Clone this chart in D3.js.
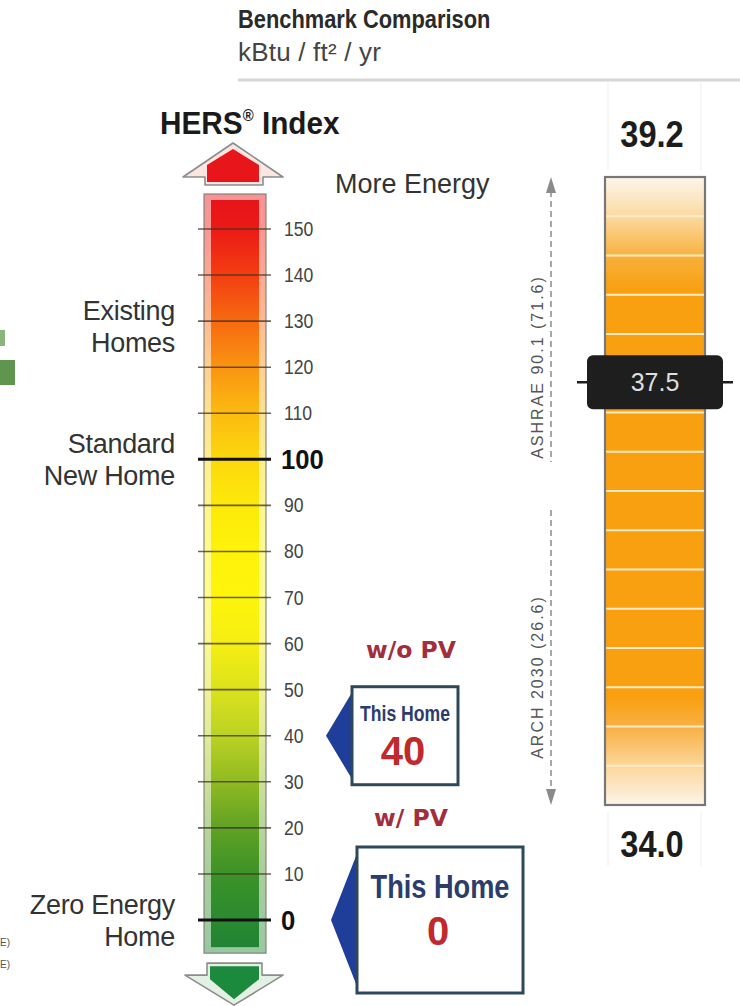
<!DOCTYPE html>
<html>
<head>
<meta charset="utf-8">
<script src="https://cdn.jsdelivr.net/npm/d3@7"></script>
<style>
  body { margin: 0; background: #fff; }
  svg { display: block; }
</style>
</head>
<body>
<svg id="chart" width="740" height="1006"></svg>
<script>
// ---- HERS index scale ----
const hersTicks = [0, 10, 20, 30, 40, 50, 60, 70, 80, 90, 100, 110, 120, 130, 140, 150];
const hersMajorTicks = [0, 100];
const hersBarExtent = [-7.2, 157.6];
const hersRefLabels = [["Existing", "Homes"], ["Standard", "New Home"], ["Zero Energy", "Home"]];
const hersRefValues = [129, 100, 0];

// ---- this home's ratings ----
const homeCases = ["w/o PV", "w/ PV"];
const homeScores = [40, 0];

// ---- benchmark comparison (kBtu / ft² / yr) ----
const benchExtent = [34.0, 39.2];
const benchMarker = 37.5;
const benchStandards = ["ASHRAE 90.1 (71.6)", "ARCH 2030 (26.6)"];
const benchSegments = 16;

// colour stops along the HERS bar, keyed by index value
const hersStopValues = [157.6, 150, 140, 130, 120, 110, 100, 90, 80, 70, 60, 50, 40, 30, 20, 10, 0, -7.2];
const hersStopColors = ["#e6121a", "#ec1a16", "#f33e12", "#f76a10", "#fa9412", "#fbbb10", "#fcd80e",
  "#fde908", "#fef20a", "#fef40c", "#f5ee12", "#dbe21c", "#bbd224", "#90ba22", "#60a224", "#3c9228",
  "#2a8a30", "#1f8234"];

const svg = d3.select("#chart");
const defs = svg.append("defs");

const SANS = "'Liberation Sans', Arial, sans-serif";

// text squeezed horizontally, for the condensed captions
function condensed(parent, x, yPos, sx, anchor) {
  return parent.append("g")
    .attr("transform", `translate(${x},${yPos}) scale(${sx},1)`)
    .append("text")
    .attr("text-anchor", anchor || "start")
    .attr("font-family", SANS);
}

// =====================================================================
// HERS index column
// =====================================================================
const y = d3.scaleLinear().domain([0, 150]).range([920, 229]);

const barOuterX = 204, barOuterW = 62;
const barInnerX = 211, barInnerW = 48;
const tickX1 = 198, tickX2 = 271;

const grad = defs.append("linearGradient")
  .attr("id", "hersGrad")
  .attr("gradientUnits", "userSpaceOnUse")
  .attr("x1", 0).attr("x2", 0)
  .attr("y1", y(hersBarExtent[1])).attr("y2", y(hersBarExtent[0]));
hersStopValues.forEach((v, i) => {
  grad.append("stop")
    .attr("offset", (y(v) - y(hersBarExtent[1])) / (y(hersBarExtent[0]) - y(hersBarExtent[1])))
    .attr("stop-color", hersStopColors[i]);
});

// title
condensed(svg, 160, 134, 0.93)
  .attr("font-weight", "bold").attr("font-size", 32)
  .attr("fill", "#1a1a1a")
  .call(t => {
    t.append("tspan").text("HERS");
    t.append("tspan").attr("font-size", 16).attr("dy", -13).text("®");
    t.append("tspan").attr("dy", 13).text(" Index");
  });

svg.append("text")
  .attr("x", 335).attr("y", 193)
  .attr("font-family", SANS).attr("font-size", 27).attr("fill", "#333")
  .text("More Energy");

// top arrow (more energy)
const topTipY = y(hersBarExtent[1]) - 51;
const topBaseY = topTipY + 34;
svg.append("polygon")
  .attr("points", [[183, topBaseY], [233, topTipY], [283, topBaseY], [263, topBaseY], [263, topBaseY + 8],
    [205, topBaseY + 8], [205, topBaseY]].join(" "))
  .attr("fill", "#fbe6e2").attr("stroke", "#8c8c8c").attr("stroke-width", 1.6)
  .attr("stroke-linejoin", "round");
svg.append("polygon")
  .attr("points", [[207, topBaseY + 5], [207, topBaseY - 12], [233, topTipY + 6], [259, topBaseY - 12],
    [259, topBaseY + 5]].join(" "))
  .attr("fill", "#e8161a");

// bar body: pale rim + saturated core
svg.append("rect")
  .attr("x", barOuterX).attr("y", y(hersBarExtent[1]))
  .attr("width", barOuterW).attr("height", y(hersBarExtent[0]) - y(hersBarExtent[1]))
  .attr("fill", "url(#hersGrad)").attr("fill-opacity", 0.45)
  .attr("stroke", "#7a7a6a").attr("stroke-opacity", 0.7).attr("stroke-width", 1.5);
svg.append("rect")
  .attr("x", barInnerX).attr("y", y(hersBarExtent[1]) + 6)
  .attr("width", barInnerW).attr("height", y(hersBarExtent[0]) - y(hersBarExtent[1]) - 12)
  .attr("fill", "url(#hersGrad)");

// bottom arrow (less energy)
const botTopY = y(hersBarExtent[0]) + 10;
const botWingY = botTopY + 12;
svg.append("polygon")
  .attr("points", [[207, botTopY], [262, botTopY], [262, botWingY], [283, botWingY], [234, botWingY + 30],
    [185, botWingY], [207, botWingY]].join(" "))
  .attr("fill", "#e4f0e4").attr("stroke", "#8c8c8c").attr("stroke-width", 1.6)
  .attr("stroke-linejoin", "round");
svg.append("polygon")
  .attr("points", [[210, botTopY + 3], [259, botTopY + 3], [259, botWingY + 4], [234, botWingY + 24],
    [210, botWingY + 4]].join(" "))
  .attr("fill", "#1c8a3c");

// ticks
svg.append("g").selectAll("line")
  .data(hersTicks)
  .join("line")
  .attr("x1", tickX1).attr("x2", tickX2)
  .attr("y1", d => y(d)).attr("y2", d => y(d))
  .attr("stroke", d => hersMajorTicks.includes(d) ? "#111" : "#3a3020")
  .attr("stroke-opacity", d => hersMajorTicks.includes(d) ? 1 : 0.75)
  .attr("stroke-width", d => hersMajorTicks.includes(d) ? 3 : 1.6);

hersTicks.forEach(d => {
  const major = hersMajorTicks.includes(d);
  condensed(svg, major ? 281 : 284, y(d) + (major ? 10 : 7), major ? 0.95 : 0.84)
    .attr("font-weight", major ? "bold" : "normal")
    .attr("font-size", major ? 27 : 21)
    .attr("fill", major ? "#111" : "#444")
    .text(d);
});

// reference labels left of the bar
hersRefLabels.forEach((lines, i) => {
  const t = svg.append("text")
    .attr("text-anchor", "end")
    .attr("font-family", SANS).attr("font-size", 27).attr("fill", "#333")
    .attr("letter-spacing", -0.3);
  lines.forEach((ln, j) => {
    t.append("tspan").attr("x", 175).attr("y", y(hersRefValues[i]) - 6 + j * 32).text(ln);
  });
});

// "This Home" call-outs
const caseLabelX = 411;
const calloutBoxes = [
  { x: 352, w: 106, h: 98, titleSize: 22, scoreSize: 40, titleDy: -15, scoreDy: 29, labelDy: -78 },
  { x: 357, w: 166, h: 146, titleSize: 34, scoreSize: 40, titleDy: -22, scoreDy: 25, labelDy: -94 }
];
homeScores.forEach((score, i) => {
  const b = calloutBoxes[i];
  const cy = y(score);
  const top = cy - b.h / 2;
  const cx = b.x + b.w / 2;
  svg.append("text")
    .attr("x", caseLabelX).attr("y", cy + b.labelDy)
    .attr("text-anchor", "middle")
    .attr("font-family", "'DejaVu Sans', Verdana, sans-serif").attr("font-weight", "bold").attr("font-size", 23.5)
    .attr("fill", "#a22e3c")
    .text(homeCases[i]);
  svg.append("polygon")
    .attr("points", [[b.x - 26, cy], [b.x + 1, top + 4], [b.x + 1, top + b.h - 4]].join(" "))
    .attr("fill", "#1f3e9a");
  svg.append("rect")
    .attr("x", b.x).attr("y", top).attr("width", b.w).attr("height", b.h)
    .attr("fill", "#fff").attr("stroke", "#2d4858").attr("stroke-width", 3);
  condensed(svg, cx, cy + b.titleDy, 0.8, "middle")
    .attr("font-weight", "bold").attr("font-size", b.titleSize)
    .attr("fill", "#2c3c6c")
    .text("This Home");
  svg.append("text")
    .attr("x", cx - 2).attr("y", cy + b.scoreDy)
    .attr("text-anchor", "middle")
    .attr("font-family", SANS).attr("font-weight", "bold").attr("font-size", b.scoreSize)
    .attr("fill", "#c02a2c")
    .text(score);
});

// clipped fragments at the left edge
svg.append("rect").attr("x", -10).attr("y", 360).attr("width", 25).attr("height", 25)
  .attr("fill", "#4f8a3c").attr("opacity", 0.9);
svg.append("rect").attr("x", -10).attr("y", 330).attr("width", 15).attr("height", 16)
  .attr("fill", "#5a9448").attr("opacity", 0.7);
["E)", "E)"].forEach((s, i) => {
  svg.append("text").attr("x", 0).attr("y", 946 + i * 22)
    .attr("font-family", SANS).attr("font-size", 10).attr("fill", "#555").text(s);
});

// =====================================================================
// Benchmark comparison column
// =====================================================================
condensed(svg, 238, 28, 0.84)
  .attr("font-weight", "bold").attr("font-size", 26)
  .attr("fill", "#2a2a2a")
  .text("Benchmark Comparison");
svg.append("text")
  .attr("x", 238).attr("y", 61)
  .attr("font-family", SANS).attr("font-size", 26).attr("fill", "#444")
  .attr("letter-spacing", 0.2)
  .text("kBtu / ft² / yr");
svg.append("line")
  .attr("x1", 238).attr("x2", 740).attr("y1", 80).attr("y2", 80)
  .attr("stroke", "#d6d6d6").attr("stroke-width", 3);

const yB = d3.scaleLinear().domain(benchExtent).range([805, 177]);
const bX = 605, bW = 100;

// faint cell rules round the end labels
[[82, 170], [812, 866]].forEach(([a, b]) => {
  [bX + 3, bX + bW - 4].forEach(x => {
    svg.append("line").attr("x1", x).attr("x2", x).attr("y1", a).attr("y2", b)
      .attr("stroke", "#eeeeee").attr("stroke-width", 1);
  });
});

const og = defs.append("linearGradient")
  .attr("id", "benchGrad").attr("x1", 0).attr("x2", 0).attr("y1", 0).attr("y2", 1);
[[0, "#fdf6ec"], [0.06, "#fbdba4"], [0.13, "#f8af38"], [0.18, "#f8a010"],
 [0.83, "#f8a010"], [0.88, "#f9b248"], [0.94, "#fcd89e"], [1, "#fdf4e8"]]
  .forEach(([o, c]) => og.append("stop").attr("offset", o).attr("stop-color", c));

svg.append("rect")
  .attr("x", bX).attr("y", yB(benchExtent[1]))
  .attr("width", bW).attr("height", yB(benchExtent[0]) - yB(benchExtent[1]))
  .attr("fill", "url(#benchGrad)");

const segH = (yB(benchExtent[0]) - yB(benchExtent[1])) / benchSegments;
svg.append("g").selectAll("line")
  .data(d3.range(1, benchSegments))
  .join("line")
  .attr("x1", bX).attr("x2", bX + bW)
  .attr("y1", d => yB(benchExtent[1]) + d * segH)
  .attr("y2", d => yB(benchExtent[1]) + d * segH)
  .attr("stroke", "#fdebc8").attr("stroke-width", 2);

svg.append("rect")
  .attr("x", bX).attr("y", yB(benchExtent[1]))
  .attr("width", bW).attr("height", yB(benchExtent[0]) - yB(benchExtent[1]))
  .attr("fill", "none").attr("stroke", "#777").attr("stroke-width", 2.2);

// end values
[[benchExtent[1], -30], [benchExtent[0], 52]].forEach(([v, dy]) => {
  condensed(svg, bX + bW / 2 - 3, yB(v) + dy, 0.88, "middle")
    .attr("font-weight", "bold").attr("font-size", 37)
    .attr("fill", "#1c1c1c")
    .text(v.toFixed(1));
});

// this home's marker
const my = yB(benchMarker);
svg.append("line")
  .attr("x1", bX - 28).attr("x2", bX + bW + 28).attr("y1", my).attr("y2", my)
  .attr("stroke", "#1e1e1e").attr("stroke-width", 2.5);
svg.append("rect")
  .attr("x", bX - 18).attr("y", my - 27).attr("width", bW + 36).attr("height", 54)
  .attr("rx", 6).attr("fill", "#1e1e1e");
svg.append("text")
  .attr("x", bX + bW / 2).attr("y", my + 9)
  .attr("text-anchor", "middle")
  .attr("font-family", SANS).attr("font-size", 25).attr("fill", "#dedede")
  .text(benchMarker.toFixed(1));

// reference standards: dashed arrows beside the bar
const arrowX = 551;
const stdRanges = [[yB(benchExtent[1]), 462], [510, yB(benchExtent[0])]];
const stdTips = [yB(benchExtent[1]), yB(benchExtent[0])];
const stdTextY = [367, 677];
benchStandards.forEach((name, i) => {
  const [a, b] = stdRanges[i];
  const tip = stdTips[i];
  const dir = i === 0 ? 1 : -1; // direction from tip into the line
  svg.append("line")
    .attr("x1", arrowX).attr("x2", arrowX)
    .attr("y1", i === 0 ? a + 14 : a).attr("y2", i === 0 ? b : b - 14)
    .attr("stroke", "#8a8a8a").attr("stroke-width", 1.5).attr("stroke-dasharray", "6,4");
  svg.append("polygon")
    .attr("points", [[arrowX, tip], [arrowX - 5, tip + dir * 16], [arrowX + 5, tip + dir * 16]].join(" "))
    .attr("fill", "#8a8a8a");
  svg.append("text")
    .attr("transform", `translate(${arrowX - 8},${stdTextY[i]}) rotate(-90)`)
    .attr("text-anchor", "middle")
    .attr("font-family", SANS).attr("font-size", 16).attr("fill", "#555")
    .attr("letter-spacing", 2)
    .text(name);
});
</script>
</body>
</html>
